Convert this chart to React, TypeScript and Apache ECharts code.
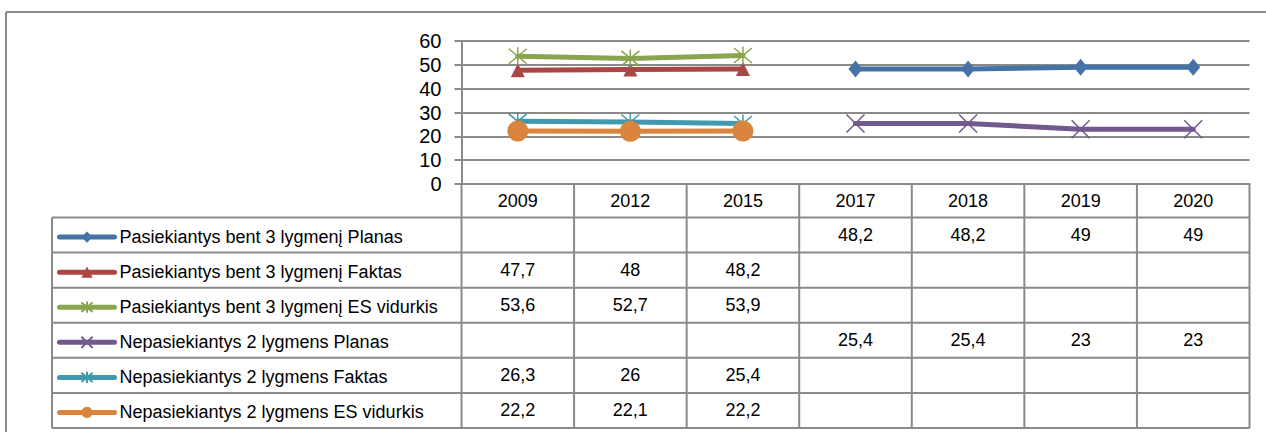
import React, { useEffect, useRef } from "react";
import * as echarts from "echarts";

const categories = ["2009", "2012", "2015", "2017", "2018", "2019", "2020"];
const seriesNames = [
  "Pasiekiantys bent 3 lygmenį Planas",
  "Pasiekiantys bent 3 lygmenį Faktas",
  "Pasiekiantys bent 3 lygmenį ES vidurkis",
  "Nepasiekiantys 2 lygmens Planas",
  "Nepasiekiantys 2 lygmens Faktas",
  "Nepasiekiantys 2 lygmens ES vidurkis",
];
const bent3Planas = [null, null, null, 48.2, 48.2, 49, 49];
const bent3Faktas = [47.7, 48, 48.2, null, null, null, null];
const bent3ES = [53.6, 52.7, 53.9, null, null, null, null];
const nep2Planas = [null, null, null, 25.4, 25.4, 23, 23];
const nep2Faktas = [26.3, 26, 25.4, null, null, null, null];
const nep2ES = [22.2, 22.1, 22.2, null, null, null, null];
const yTicks = { min: 0, max: 60, interval: 10 };

const seriesValues = [bent3Planas, bent3Faktas, bent3ES, nep2Planas, nep2Faktas, nep2ES];
const colors = ["#4572A7", "#AA4643", "#89A54E", "#71588F", "#4198AF", "#DB843D"];
const X_PATH = "path://M0 0L10 10M10 0L0 10";
const STAR_PATH = "path://M0 0L10 10M10 0L0 10M5 -1L5 11";
const symbols = [
  { symbol: "diamond", size: [14, 17], bw: 0 },
  { symbol: "triangle", size: 14, bw: 0 },
  { symbol: STAR_PATH, size: 18, bw: 1.5 },
  { symbol: X_PATH, size: 18, bw: 1.5 },
  { symbol: STAR_PATH, size: 18, bw: 1.5 },
  { symbol: "circle", size: 21, bw: 0 },
];

const W = 1266;
const H = 432;
const gridLeft = 461.5;
const gridRight = 1249.5;
const gridTop = 41;
const gridBottom = 184;
const headerBottom = 217.5;
const tableBottom = 428;
const legendLeft = 52;
const GRAY = "#8a8a8a";
const FONT = "'Liberation Sans', Arial, sans-serif";
const TABLE_FONT_SIZE = 18;

export default function App() {
  const ref = useRef<HTMLDivElement>(null);
  useEffect(() => {
    if (!ref.current) return;
    const chart = echarts.init(ref.current, null, { renderer: "svg" });
    const rowH = (tableBottom - headerBottom) / seriesNames.length;
    const colW = (gridRight - gridLeft) / categories.length;
    const lineStyle = { stroke: GRAY, lineWidth: 2 };
    const graphics: any[] = [];
    // outer frame
    graphics.push({ type: "line", shape: { x1: 6, y1: 12, x2: W, y2: 12 }, style: lineStyle, silent: true });
    graphics.push({ type: "line", shape: { x1: 6, y1: 12, x2: 6, y2: H }, style: lineStyle, silent: true });
    // table horizontal lines
    for (let k = 0; k <= seriesNames.length; k++) {
      const y = headerBottom + k * rowH;
      graphics.push({ type: "line", shape: { x1: legendLeft, y1: y, x2: gridRight, y2: y }, style: lineStyle, silent: true });
    }
    // table vertical lines
    graphics.push({ type: "line", shape: { x1: legendLeft, y1: headerBottom, x2: legendLeft, y2: tableBottom }, style: lineStyle, silent: true });
    for (let i = 0; i <= categories.length; i++) {
      const x = gridLeft + i * colW;
      graphics.push({ type: "line", shape: { x1: x, y1: gridBottom, x2: x, y2: tableBottom }, style: lineStyle, silent: true });
    }
    // cell values
    seriesValues.forEach((vals, r) => {
      vals.forEach((v, c) => {
        if (v === null || v === undefined) return;
        graphics.push({
          type: "text",
          x: gridLeft + (c + 0.5) * colW,
          y: headerBottom + (r + 0.5) * rowH,
          silent: true,
          style: {
            text: String(v).replace(".", ","),
            fontSize: TABLE_FONT_SIZE,
            fontFamily: FONT,
            fill: "#000",
            align: "center",
            verticalAlign: "middle",
          },
        });
      });
    });

    const legendItemH = 14;
    const legends = seriesNames.map((name, r) => ({
      orient: "horizontal",
      left: 57,
      top: headerBottom + (r + 0.5) * rowH - legendItemH / 2,
      padding: 0,
      itemWidth: 55,
      itemHeight: legendItemH,
      itemGap: 0,
      selectedMode: false,
      lineStyle: { width: 5, cap: "round" },
      textStyle: { fontSize: TABLE_FONT_SIZE, fontFamily: FONT, color: "#000", lineHeight: legendItemH, padding: 0 },
      data: [name],
    }));

    const option: any = {
      animation: false,
      backgroundColor: "#fff",
      grid: {
        left: gridLeft,
        right: W - gridRight,
        top: gridTop,
        bottom: H - gridBottom,
        containLabel: false,
      },
      legend: legends,
      xAxis: {
        type: "category",
        data: categories,
        boundaryGap: true,
        axisLine: { show: true, lineStyle: { color: GRAY, width: 2 } },
        axisTick: { show: false },
        splitLine: { show: false },
        axisLabel: { interval: 0, margin: 8, fontSize: TABLE_FONT_SIZE, fontFamily: FONT, color: "#000" },
      },
      yAxis: {
        type: "value",
        min: yTicks.min,
        max: yTicks.max,
        interval: yTicks.interval,
        axisLine: { show: true, lineStyle: { color: GRAY, width: 2 } },
        axisTick: { show: true, length: 7, lineStyle: { color: GRAY, width: 2 } },
        splitLine: { show: true, lineStyle: { color: GRAY, width: 2 } },
        axisLabel: { margin: 20, fontSize: 20, fontFamily: FONT, color: "#000" },
      },
      series: seriesNames.map((name, i) => ({
        name,
        type: "line",
        data: seriesValues[i],
        connectNulls: false,
        symbol: symbols[i].symbol,
        symbolSize: symbols[i].size,
        showAllSymbol: true,
        lineStyle: { color: colors[i], width: 5, cap: "round", join: "round" },
        itemStyle: { color: colors[i], borderColor: colors[i], borderWidth: symbols[i].bw },
        emphasis: { disabled: true },
      })),
      graphic: graphics,
    };
    chart.setOption(option);
    return () => chart.dispose();
  }, []);
  return (
    <div
      ref={ref}
      style={{ position: "fixed", left: 0, top: 0, width: W, height: H, background: "#fff" }}
    />
  );
}
